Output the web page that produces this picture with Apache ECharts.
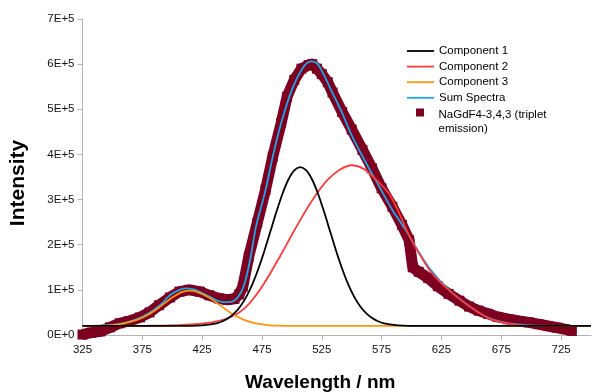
<!DOCTYPE html>
<html>
<head>
<meta charset="utf-8">
<script src="https://cdn.jsdelivr.net/npm/echarts@6.0.0/dist/echarts.min.js"></script>
<style>
  html, body { margin: 0; padding: 0; background: #fff; }
  #chart { width: 592px; height: 392px; }
</style>
</head>
<body>
<div id="chart"></div>
<script>
// tick labels on the wavelength axis
const xTicks = [325, 375, 425, 475, 525, 575, 625, 675, 725];

// fitted components, [wavelength, intensity]
const comp1 = [[325, 20000], [400, 20050], [417, 20400], [427, 21700], [437, 25900], [442, 30400], [447, 37500],
  [452, 48300], [457, 63900], [462, 85100], [467, 112800], [472, 146900], [477, 186200], [482, 229100],
  [487, 272300], [492, 311900], [497, 343900], [502, 364700], [507, 372000], [512, 364700], [517, 343900],
  [522, 311900], [527, 272300], [532, 229100], [537, 186200], [542, 146900], [547, 112800], [552, 85100],
  [557, 63900], [562, 48300], [567, 37500], [572, 30400], [577, 25900], [587, 21700], [597, 20400],
  [615, 20050], [750, 20000]];

const comp2 = [[325, 20000], [380, 20500], [400, 21500], [420, 24000], [430, 27000], [440, 32000], [450, 41000],
  [460, 58000], [470, 88000], [480, 128000], [490, 174000], [500, 222000], [506, 250000], [515, 290000],
  [521, 314000], [530, 344000], [540, 366000], [550, 376000], [560, 368000], [570, 345000], [581, 314000],
  [590, 268000], [598, 220000], [607, 178000], [615, 144000], [623, 120000], [631, 100000], [640, 80000],
  [648, 64000], [656, 50000], [664, 38000], [672, 30000], [681, 25000], [690, 22000], [700, 20800],
  [720, 20000], [750, 20000]];

const comp3 = [[325, 20000], [340, 20500], [350, 22000], [360, 26000], [370, 33000], [380, 45000], [390, 63000],
  [400, 83000], [408, 95000], [414, 98500], [420, 96000], [430, 84000], [440, 66000], [450, 47000],
  [460, 33500], [470, 25500], [480, 22000], [490, 20700], [500, 20200], [520, 20000], [750, 20000]];

const sumSpectra = [[325, 20000], [340, 20700], [350, 22500], [360, 27000], [370, 34500], [380, 47500],
  [390, 66500], [398, 88000], [405, 99000], [411, 103500], [418, 101000], [426, 92000], [434, 81000],
  [442, 73000], [449, 73500], [455, 84000], [460, 110000], [465, 165000], [470, 240000], [478, 321000],
  [484, 395000], [491, 469000], [500, 543000], [509, 591000], [516, 606000], [521, 602000], [526, 580000],
  [534, 536000], [542, 492000], [550, 442000], [562, 381000], [573, 329000], [584, 277000], [595, 233000],
  [605, 188000], [615, 148000], [631, 101000], [648, 64500], [664, 38500], [681, 25500], [700, 21000],
  [720, 20200], [750, 20000]];

// measured emission
const measured = [[325, 1000], [332, 5000], [340, 8000], [348, 17000], [356, 26000], [364, 31000],
  [373, 39000], [381, 50000], [389, 66000], [398, 83000], [406, 96000], [414, 100000], [423, 96000],
  [431, 88000], [439, 81000], [446, 78000], [452, 80000], [456, 90000], [459, 107000], [464, 174000],
  [471, 248000], [478, 322000], [484, 395000], [491, 469000], [496, 528000], [502, 565000], [508, 590000],
  [514, 598000], [517, 600000], [521, 590000], [525, 578000], [530, 560000], [534, 537000], [542, 494000],
  [550, 455000], [559, 410000], [567, 369000], [575, 325000], [584, 284000], [592, 244000], [598, 210000],
  [601, 150000], [606, 140000], [614, 126000], [622, 108000], [631, 91000], [640, 76000], [648, 63000],
  [656, 54000], [664, 47000], [672, 40000], [681, 35000], [690, 31000], [698, 28000], [706, 24000],
  [714, 20000], [722, 16000], [728, 13000], [734, 9000]];

const dataName = "NaGdF4-3,4,3 (triplet emission)";
const axisGray = "#b3b3b3";
const font = "'Liberation Sans', Arial, sans-serif";
const lineIcon = "path://M0,0H27V1.8H0Z";

const chart = echarts.init(document.getElementById("chart"), null, { renderer: "canvas" });

function curve(name, data, color, z) {
  return {
    name: name,
    type: "line",
    data: data,
    smooth: 0.3,
    symbol: "none",
    z: z,
    lineStyle: { color: color, width: 1.8 },
    itemStyle: { color: color },
  };
}

function legendLine(name) {
  return { name: name, icon: lineIcon, itemStyle: { borderWidth: 0 } };
}

chart.setOption({
  animation: false,
  backgroundColor: "#fff",
  textStyle: { fontFamily: font },
  grid: { left: 82.5, right: 1, top: 19, bottom: 57, containLabel: false, outerBoundsMode: "none" },
  legend: [
    {
      orient: "vertical",
      left: 407,
      top: 44,
      padding: 0,
      itemWidth: 27,
      itemHeight: 14,
      itemGap: 1.6,
      textStyle: { fontSize: 11.5, color: "#000", fontFamily: font, lineHeight: 14 },
      data: [legendLine("Component 1"), legendLine("Component 2"), legendLine("Component 3"), legendLine("Sum Spectra")],
    },
    {
      orient: "vertical",
      left: 416,
      top: 92.5,
      padding: 0,
      itemWidth: 27,
      itemHeight: 8,
      textStyle: {
        fontSize: 11.5,
        color: "#000",
        fontFamily: font,
        rich: {
          s: { lineHeight: 18, fontSize: 11.5 },
          t: { lineHeight: 14, fontSize: 11.5, color: "#000", fontFamily: font },
        },
      },
      formatter: () => "{s| }\n{t|NaGdF4-3,4,3 (triplet}\n{t|emission)}",
      data: [{ name: dataName, icon: "path://M0,0H8V8H0Z", itemStyle: { color: "#7e0021", borderWidth: 0 } }],
    },
  ],
  xAxis: {
    type: "value",
    min: 325,
    max: 750,
    name: "Wavelength / nm",
    nameLocation: "middle",
    nameGap: 38,
    nameTextStyle: { fontSize: 19, fontWeight: "bold", color: "#000", fontFamily: font, padding: [0, 33, 0, 0] },
    axisLine: { lineStyle: { color: axisGray, width: 1 } },
    axisTick: { show: true, length: 5, lineStyle: { color: axisGray }, customValues: xTicks },
    axisLabel: { color: "#111", fontSize: 11.5, margin: 9, customValues: xTicks },
    splitLine: { show: false },
  },
  yAxis: {
    type: "value",
    min: 0,
    max: 700000,
    interval: 100000,
    name: "Intensity",
    nameLocation: "middle",
    nameGap: 54,
    nameTextStyle: { fontSize: 21, fontWeight: "bold", color: "#000", fontFamily: font, padding: [0, 12, 0, 0] },
    axisLine: { show: true, lineStyle: { color: axisGray, width: 1 } },
    axisTick: { show: true, length: 5, lineStyle: { color: axisGray } },
    axisLabel: {
      color: "#111",
      fontSize: 11.5,
      margin: 8,
      formatter: (v) => (v === 0 ? "0E+0" : v / 100000 + "E+5"),
    },
    splitLine: { show: false },
  },
  series: [
    curve("Component 1", comp1, "#000000", 6),
    curve("Component 2", comp2, "#ff3838", 4),
    curve("Component 3", comp3, "#ff950e", 5),
    curve("Sum Spectra", sumSpectra, "#1aa7e8", 3),
    {
      name: dataName,
      type: "line",
      data: measured,
      z: 1,
      clip: false,
      symbol: "rect",
      symbolSize: 10,
      showSymbol: true,
      itemStyle: { color: "#7e0021", borderWidth: 0 },
      lineStyle: { color: "#7e0021", width: 11, join: "round" },
    },
  ],
});
</script>
</body>
</html>
